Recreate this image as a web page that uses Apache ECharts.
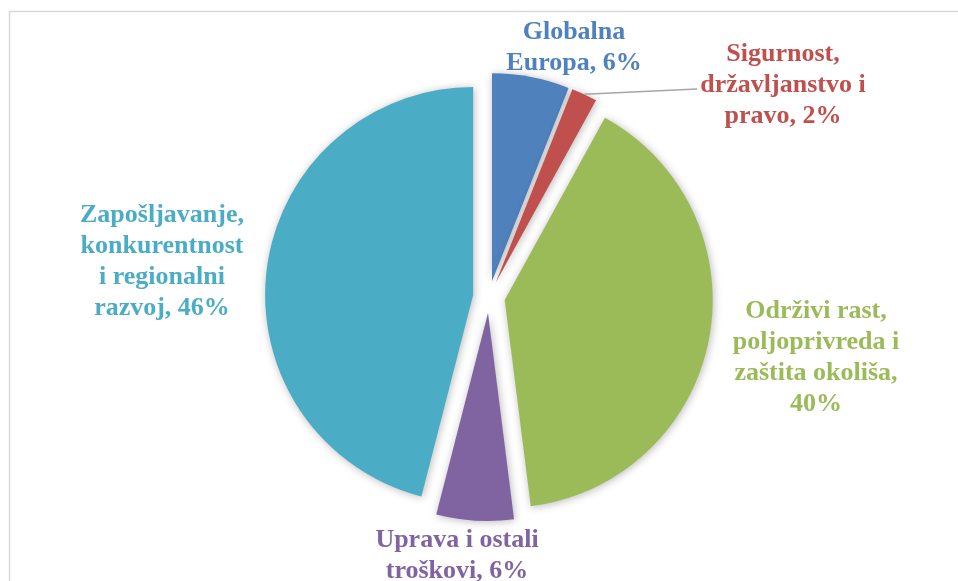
<!DOCTYPE html>
<html>
<head>
<meta charset="utf-8">
<script src="https://cdn.jsdelivr.net/npm/echarts@6/dist/echarts.min.js"></script>
<style>
  html, body { margin: 0; padding: 0; background: #fff; }
  #chart { width: 958px; height: 581px; }
</style>
</head>
<body>
<div id="chart"></div>
<script>
// data, clockwise from 12 o'clock
const categories = [
  "Globalna\nEuropa",
  "Sigurnost,\ndržavljanstvo i\npravo",
  "Održivi rast,\npoljoprivreda i\nzaštita okoliša,",
  "Uprava i ostali\ntroškovi",
  "Zapošljavanje,\nkonkurentnost\ni regionalni\nrazvoj",
];
const values = [6, 2, 40, 6, 46];
const colors = ["#4F81BD", "#C0504D", "#9BBB59", "#8064A2", "#4BACC6"];

// label block centres
const labelPos = [
  [574, 48],
  [783, 85],
  [816, 358],
  [457, 556],
  [162, 262],
];

const CX = 489, CY = 297, R = 208, OFFSET = 16;

const chart = echarts.init(document.getElementById("chart"));

const seriesData = categories.map((name, i) => ({
  name: name,
  value: values[i],
  selected: true,
  itemStyle: { color: colors[i] },
}));

const labelText = (i) => {
  const n = categories[i];
  return n.endsWith(",") ? n + "\n" + values[i] + "%" : n + ", " + values[i] + "%";
};

const labels = categories.map((n, i) => ({
  type: "text",
  silent: true,
  z: 100,
  style: {
    text: labelText(i),
    x: labelPos[i][0],
    y: labelPos[i][1],
    fill: colors[i],
    font: "bold 26px 'Liberation Serif', 'Times New Roman', serif",
    lineHeight: 31,
    textAlign: "center",
    textVerticalAlign: "middle",
  },
}));

// leader line for the small red slice
const total = values.reduce((a, b) => a + b, 0);
const midAng = ((values[0] + values[1] / 2) / total) * 2 * Math.PI;
const lineStart = [
  CX + (R + OFFSET) * Math.sin(midAng),
  CY - (R + OFFSET) * Math.cos(midAng),
];

chart.setOption({
  animation: false,
  backgroundColor: "#fff",
  graphic: [
    {
      type: "rect",
      silent: true,
      shape: { x: 9.5, y: 11.5, width: 1000, height: 700 },
      style: { fill: "none", stroke: "#d9d9d9", lineWidth: 1.5 },
    },
    {
      type: "polyline",
      silent: true,
      z: 100,
      shape: { points: [lineStart, [697, 89]] },
      style: { stroke: "#a6a6a6", lineWidth: 1.5, fill: "none" },
    },
    ...labels,
  ],
  series: [
    {
      type: "pie",
      center: [CX, CY],
      radius: R,
      startAngle: 90,
      clockwise: true,
      selectedMode: "multiple",
      selectedOffset: OFFSET,
      itemStyle: {
        shadowBlur: 8,
        shadowColor: "rgba(0,0,0,0.28)",
        shadowOffsetX: 1,
        shadowOffsetY: 1,
      },
      emphasis: { disabled: true },
      label: { show: false },
      labelLine: { show: false },
      data: seriesData,
    },
  ],
});
</script>
</body>
</html>
